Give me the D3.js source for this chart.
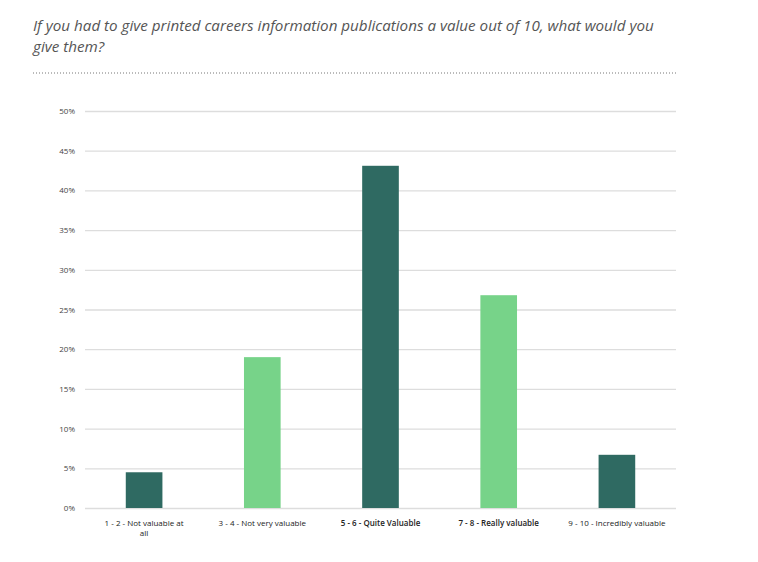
<!DOCTYPE html>
<html><head><meta charset="utf-8">
<script src="https://cdn.jsdelivr.net/npm/d3@7"></script>
<style>body{margin:0;background:#fff;font-family:"Open Sans",sans-serif;}</style>
</head><body><svg id="c" width="758" height="562"></svg>
<script>
const categories = ["1 - 2 - Not valuable at all","3 - 4 - Not very valuable","5 - 6 - Quite Valuable","7 - 8 - Really valuable","9 - 10 - Incredibly valuable"];
const values = [4.5, 19.0, 43.1, 26.8, 6.7];
const barColors = ["#2f6a62","#77d389","#2f6a62","#77d389","#2f6a62"];
const tickValues = [0,5,10,15,20,25,30,35,40,45,50];
const boldLabels = [false,false,true,true,false];
const title = ["If you had to give printed careers information publications a value out of 10, what would you","give them?"];

const svg = d3.select("#c");
const m = {l:85, r:676, t:111, b:508};
const x = d3.scaleBand().domain(categories).range([m.l, m.r]).paddingInner(0.69).paddingOuter(0.345);
const y = d3.scaleLinear().domain([0,50]).range([m.b, m.t]);

svg.append("g").selectAll("text").data(title).join("text")
  .attr("x",33).attr("y",(d,i)=>31+i*21)
  .attr("font-style","italic").attr("font-size",15.2).attr("fill","#555").text(d=>d);
svg.append("line").attr("x1",33).attr("x2",676).attr("y1",73).attr("y2",73)
  .attr("stroke","#777").attr("stroke-width",1).attr("stroke-dasharray","1,2");

const ya = d3.axisLeft(y).tickValues(tickValues).tickFormat(d=>d+"%").tickSize(-(m.r-m.l)).tickPadding(10);
const yg = svg.append("g").attr("transform",`translate(${m.l},0)`).call(ya);
yg.select(".domain").remove();
yg.selectAll(".tick line").attr("stroke","#ddd").attr("stroke-width",1.3);
yg.selectAll(".tick text").attr("font-size",8).attr("fill","#444").attr("font-family","Open Sans");

svg.append("g").selectAll("rect").data(values).join("rect")
  .attr("x",(d,i)=>x(categories[i])).attr("width",x.bandwidth())
  .attr("y",d=>y(d)).attr("height",d=>y(0)-y(d)).attr("fill",(d,i)=>barColors[i]);

const xa = d3.axisBottom(x).tickSize(0).tickPadding(12);
const xg = svg.append("g").attr("transform",`translate(0,${m.b})`).call(xa);
xg.select(".domain").remove();
xg.selectAll(".tick text").attr("font-size",8).attr("fill","#222").attr("font-family","Open Sans")
  .attr("font-weight",(d,i)=>boldLabels[i]?600:400)
  .each(function(d){
    const t = d3.select(this);
    if (d.indexOf("Not valuable at")>=0) {
      t.text(null);
      t.append("tspan").attr("x",0).attr("dy","0.71em").text("1 - 2 - Not valuable at");
      t.append("tspan").attr("x",0).attr("dy","1.3em").text("all");
    }
  });
</script></body></html>
